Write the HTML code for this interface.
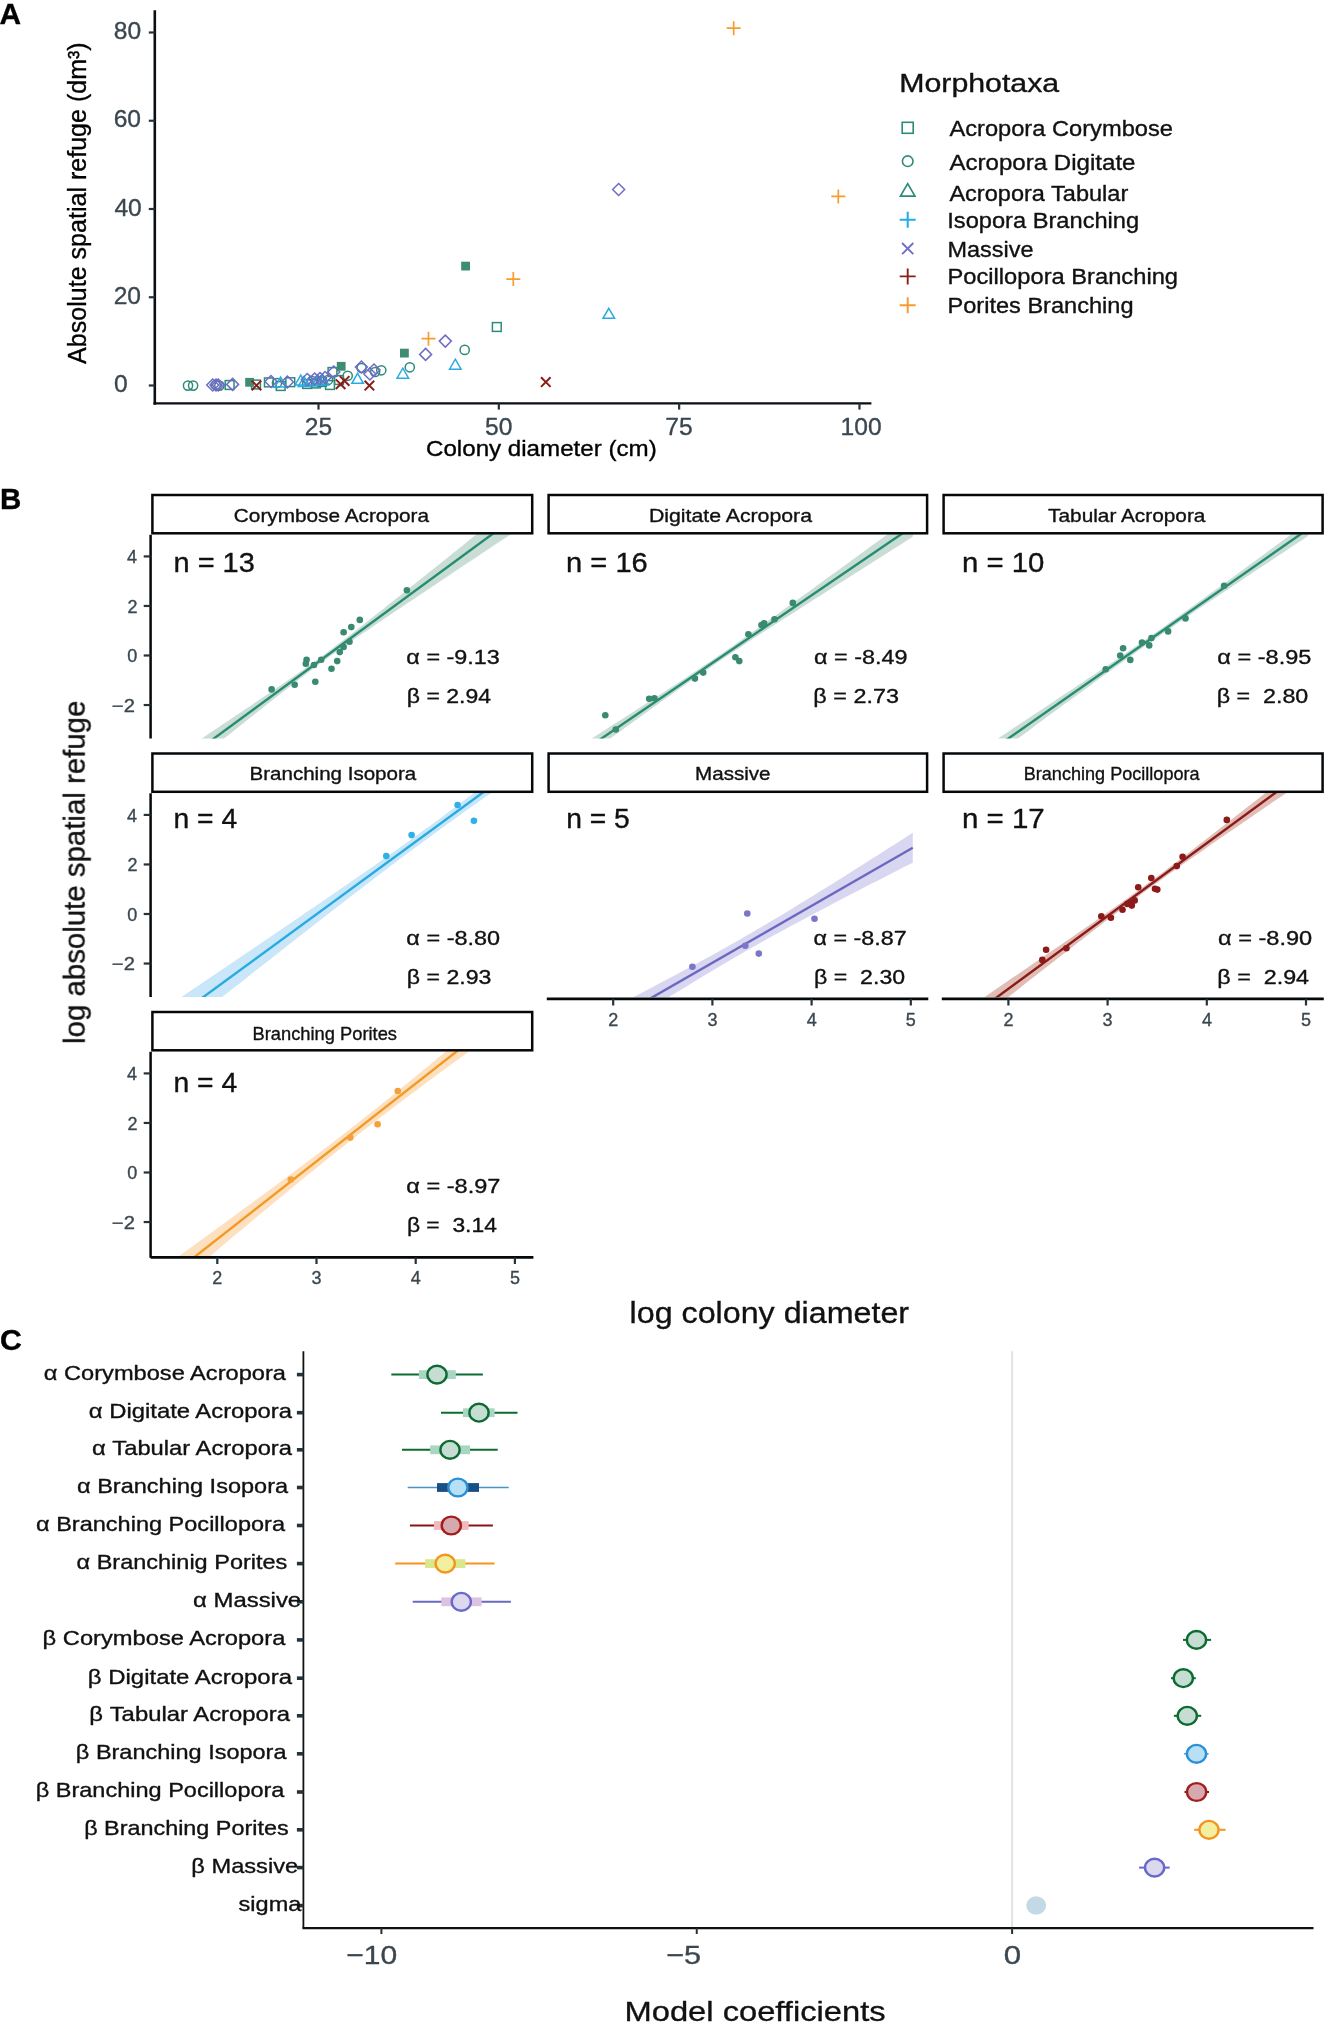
<!DOCTYPE html>
<html><head><meta charset="utf-8"><style>
html,body{margin:0;padding:0;background:#fff;}
svg{display:block;}
text{font-family:"Liberation Sans", sans-serif;white-space:pre;stroke-width:0.35;stroke-linejoin:round;}
#root{opacity:0.999;}
</style></head><body>
<svg width="1329" height="2023" viewBox="0 0 1329 2023" font-family='"Liberation Sans", sans-serif'>
<rect width="1329" height="2023" fill="#fff"/>
<g id="root">
<g id="A">
<text x="-0.55" y="23.90" font-size="28.6" fill="#000" stroke="#000" font-weight="bold" textLength="21.56" lengthAdjust="spacingAndGlyphs">A</text>
<line x1="154.80" y1="10.20" x2="154.80" y2="404.80" stroke="#0a0f14" stroke-width="2.6"/>
<line x1="153.50" y1="403.40" x2="871.40" y2="403.40" stroke="#0a0f14" stroke-width="2.4"/>
<line x1="148.80" y1="385.50" x2="154.80" y2="385.50" stroke="#25323a" stroke-width="2.2"/>
<text x="113.92" y="392.10" font-size="24.6" fill="#3a4750" stroke="#3a4750">0</text>
<line x1="148.80" y1="297.25" x2="154.80" y2="297.25" stroke="#25323a" stroke-width="2.2"/>
<text x="113.67" y="303.85" font-size="24.6" fill="#3a4750" stroke="#3a4750">20</text>
<line x1="148.80" y1="209.00" x2="154.80" y2="209.00" stroke="#25323a" stroke-width="2.2"/>
<text x="114.41" y="215.60" font-size="24.6" fill="#3a4750" stroke="#3a4750">40</text>
<line x1="148.80" y1="120.75" x2="154.80" y2="120.75" stroke="#25323a" stroke-width="2.2"/>
<text x="113.67" y="127.35" font-size="24.6" fill="#3a4750" stroke="#3a4750">60</text>
<line x1="148.80" y1="32.50" x2="154.80" y2="32.50" stroke="#25323a" stroke-width="2.2"/>
<text x="113.79" y="39.10" font-size="24.6" fill="#3a4750" stroke="#3a4750">80</text>
<line x1="318.50" y1="403.40" x2="318.50" y2="409.60" stroke="#25323a" stroke-width="2.2"/>
<text x="304.72" y="435.00" font-size="24.6" fill="#3a4750" stroke="#3a4750">25</text>
<line x1="498.82" y1="403.40" x2="498.82" y2="409.60" stroke="#25323a" stroke-width="2.2"/>
<text x="485.11" y="435.00" font-size="24.6" fill="#3a4750" stroke="#3a4750">50</text>
<line x1="679.15" y1="403.40" x2="679.15" y2="409.60" stroke="#25323a" stroke-width="2.2"/>
<text x="665.37" y="435.00" font-size="24.6" fill="#3a4750" stroke="#3a4750">75</text>
<line x1="859.48" y1="403.40" x2="859.48" y2="409.60" stroke="#25323a" stroke-width="2.2"/>
<text x="840.55" y="435.00" font-size="24.6" fill="#3a4750" stroke="#3a4750">100</text>
<text x="425.99" y="456.00" font-size="21.6" fill="#000" stroke="#000" textLength="230.74" lengthAdjust="spacingAndGlyphs">Colony diameter (cm)</text>
<text transform="translate(85.50,363.90) rotate(-90)" x="0" y="0" font-size="24.9" fill="#000" stroke="#000" textLength="321.62" lengthAdjust="spacingAndGlyphs">Absolute spatial refuge (dm³)</text>
<rect x="225.20" y="380.60" width="8.8" height="8.8" fill="none" stroke="#2e8b78" stroke-width="1.5"/>
<rect x="251.60" y="380.10" width="8.8" height="8.8" fill="none" stroke="#2e8b78" stroke-width="1.5"/>
<rect x="264.50" y="378.00" width="8.8" height="8.8" fill="none" stroke="#2e8b78" stroke-width="1.5"/>
<rect x="276.30" y="381.60" width="8.8" height="8.8" fill="none" stroke="#2e8b78" stroke-width="1.5"/>
<rect x="285.90" y="377.80" width="8.8" height="8.8" fill="none" stroke="#2e8b78" stroke-width="1.5"/>
<rect x="302.80" y="379.60" width="8.8" height="8.8" fill="none" stroke="#2e8b78" stroke-width="1.5"/>
<rect x="311.60" y="379.10" width="8.8" height="8.8" fill="none" stroke="#2e8b78" stroke-width="1.5"/>
<rect x="317.60" y="377.60" width="8.8" height="8.8" fill="none" stroke="#2e8b78" stroke-width="1.5"/>
<rect x="325.60" y="380.60" width="8.8" height="8.8" fill="none" stroke="#2e8b78" stroke-width="1.5"/>
<rect x="328.10" y="367.60" width="8.8" height="8.8" fill="none" stroke="#2e8b78" stroke-width="1.5"/>
<rect x="334.60" y="375.60" width="8.8" height="8.8" fill="none" stroke="#2e8b78" stroke-width="1.5"/>
<rect x="492.40" y="322.60" width="8.8" height="8.8" fill="none" stroke="#2e8b78" stroke-width="1.5"/>
<circle cx="188" cy="385.6" r="4.6" fill="none" stroke="#2e8b78" stroke-width="1.5"/>
<circle cx="193.1" cy="385.6" r="4.6" fill="none" stroke="#2e8b78" stroke-width="1.5"/>
<circle cx="215.7" cy="385" r="4.6" fill="none" stroke="#2e8b78" stroke-width="1.5"/>
<circle cx="219.4" cy="385.6" r="4.6" fill="none" stroke="#2e8b78" stroke-width="1.5"/>
<circle cx="277" cy="383" r="4.6" fill="none" stroke="#2e8b78" stroke-width="1.5"/>
<circle cx="312" cy="381" r="4.6" fill="none" stroke="#2e8b78" stroke-width="1.5"/>
<circle cx="321" cy="381" r="4.6" fill="none" stroke="#2e8b78" stroke-width="1.5"/>
<circle cx="328" cy="380" r="4.6" fill="none" stroke="#2e8b78" stroke-width="1.5"/>
<circle cx="347.7" cy="375.8" r="4.6" fill="none" stroke="#2e8b78" stroke-width="1.5"/>
<circle cx="361.6" cy="368" r="4.6" fill="none" stroke="#2e8b78" stroke-width="1.5"/>
<circle cx="375.1" cy="372" r="4.6" fill="none" stroke="#2e8b78" stroke-width="1.5"/>
<circle cx="381.3" cy="370.3" r="4.6" fill="none" stroke="#2e8b78" stroke-width="1.5"/>
<circle cx="409.8" cy="367.3" r="4.6" fill="none" stroke="#2e8b78" stroke-width="1.5"/>
<circle cx="464.7" cy="349.9" r="4.6" fill="none" stroke="#2e8b78" stroke-width="1.5"/>
<path d="M280.60,377.02 L286.35,386.98 L274.85,386.98 Z" fill="none" stroke="#29abe2" stroke-width="1.5" stroke-linejoin="miter"/>
<path d="M300.80,375.02 L306.55,384.98 L295.05,384.98 Z" fill="none" stroke="#29abe2" stroke-width="1.5" stroke-linejoin="miter"/>
<path d="M304.00,376.52 L309.75,386.48 L298.25,386.48 Z" fill="none" stroke="#29abe2" stroke-width="1.5" stroke-linejoin="miter"/>
<path d="M310.00,376.02 L315.75,385.98 L304.25,385.98 Z" fill="none" stroke="#29abe2" stroke-width="1.5" stroke-linejoin="miter"/>
<path d="M318.00,375.02 L323.75,384.98 L312.25,384.98 Z" fill="none" stroke="#29abe2" stroke-width="1.5" stroke-linejoin="miter"/>
<path d="M323.00,375.02 L328.75,384.98 L317.25,384.98 Z" fill="none" stroke="#29abe2" stroke-width="1.5" stroke-linejoin="miter"/>
<path d="M357.60,373.32 L363.35,383.28 L351.85,383.28 Z" fill="none" stroke="#29abe2" stroke-width="1.5" stroke-linejoin="miter"/>
<path d="M402.80,368.22 L408.55,378.18 L397.05,378.18 Z" fill="none" stroke="#29abe2" stroke-width="1.5" stroke-linejoin="miter"/>
<path d="M455.30,359.22 L461.05,369.18 L449.55,369.18 Z" fill="none" stroke="#29abe2" stroke-width="1.5" stroke-linejoin="miter"/>
<path d="M608.80,308.32 L614.55,318.28 L603.05,318.28 Z" fill="none" stroke="#29abe2" stroke-width="1.5" stroke-linejoin="miter"/>
<path d="M212.70,379.00 L218.70,385.00 L212.70,391.00 L206.70,385.00 Z" fill="none" stroke="#6f6cc6" stroke-width="1.5"/>
<path d="M216.00,379.00 L222.00,385.00 L216.00,391.00 L210.00,385.00 Z" fill="none" stroke="#6f6cc6" stroke-width="1.5"/>
<path d="M218.20,379.00 L224.20,385.00 L218.20,391.00 L212.20,385.00 Z" fill="none" stroke="#6f6cc6" stroke-width="1.5"/>
<path d="M232.60,378.40 L238.60,384.40 L232.60,390.40 L226.60,384.40 Z" fill="none" stroke="#6f6cc6" stroke-width="1.5"/>
<path d="M271.00,375.50 L277.00,381.50 L271.00,387.50 L265.00,381.50 Z" fill="none" stroke="#6f6cc6" stroke-width="1.5"/>
<path d="M287.40,376.00 L293.40,382.00 L287.40,388.00 L281.40,382.00 Z" fill="none" stroke="#6f6cc6" stroke-width="1.5"/>
<path d="M307.30,373.50 L313.30,379.50 L307.30,385.50 L301.30,379.50 Z" fill="none" stroke="#6f6cc6" stroke-width="1.5"/>
<path d="M314.60,373.00 L320.60,379.00 L314.60,385.00 L308.60,379.00 Z" fill="none" stroke="#6f6cc6" stroke-width="1.5"/>
<path d="M320.00,372.50 L326.00,378.50 L320.00,384.50 L314.00,378.50 Z" fill="none" stroke="#6f6cc6" stroke-width="1.5"/>
<path d="M325.00,371.50 L331.00,377.50 L325.00,383.50 L319.00,377.50 Z" fill="none" stroke="#6f6cc6" stroke-width="1.5"/>
<path d="M333.80,366.00 L339.80,372.00 L333.80,378.00 L327.80,372.00 Z" fill="none" stroke="#6f6cc6" stroke-width="1.5"/>
<path d="M361.40,361.00 L367.40,367.00 L361.40,373.00 L355.40,367.00 Z" fill="none" stroke="#6f6cc6" stroke-width="1.5"/>
<path d="M369.90,368.00 L375.90,374.00 L369.90,380.00 L363.90,374.00 Z" fill="none" stroke="#6f6cc6" stroke-width="1.5"/>
<path d="M374.00,364.00 L380.00,370.00 L374.00,376.00 L368.00,370.00 Z" fill="none" stroke="#6f6cc6" stroke-width="1.5"/>
<path d="M425.60,348.40 L431.60,354.40 L425.60,360.40 L419.60,354.40 Z" fill="none" stroke="#6f6cc6" stroke-width="1.5"/>
<path d="M445.30,335.10 L451.30,341.10 L445.30,347.10 L439.30,341.10 Z" fill="none" stroke="#6f6cc6" stroke-width="1.5"/>
<path d="M618.60,183.50 L624.60,189.50 L618.60,195.50 L612.60,189.50 Z" fill="none" stroke="#6f6cc6" stroke-width="1.5"/>
<rect x="245.20" y="377.90" width="8.8" height="8.8" fill="#3f8c74"/>
<rect x="336.80" y="361.90" width="8.8" height="8.8" fill="#3f8c74"/>
<rect x="400.00" y="348.70" width="8.8" height="8.8" fill="#3f8c74"/>
<rect x="461.20" y="261.70" width="8.8" height="8.8" fill="#3f8c74"/>
<path d="M251.70,380.60 L261.30,390.20 M261.30,380.60 L251.70,390.20" stroke="#8b1d1a" stroke-width="2.0"/>
<path d="M335.80,379.40 L345.40,389.00 M345.40,379.40 L335.80,389.00" stroke="#8b1d1a" stroke-width="2.0"/>
<path d="M339.80,376.10 L349.40,385.70 M349.40,376.10 L339.80,385.70" stroke="#8b1d1a" stroke-width="2.0"/>
<path d="M364.60,380.80 L374.20,390.40 M374.20,380.80 L364.60,390.40" stroke="#8b1d1a" stroke-width="2.0"/>
<path d="M541.00,377.30 L550.60,386.90 M550.60,377.30 L541.00,386.90" stroke="#8b1d1a" stroke-width="2.0"/>
<path d="M421.50,338.70 L435.50,338.70 M428.50,331.70 L428.50,345.70" stroke="#f79c2e" stroke-width="1.7"/>
<path d="M506.30,279.10 L520.30,279.10 M513.30,272.10 L513.30,286.10" stroke="#f79c2e" stroke-width="1.7"/>
<path d="M726.70,28.20 L740.70,28.20 M733.70,21.20 L733.70,35.20" stroke="#f79c2e" stroke-width="1.7"/>
<path d="M831.30,196.40 L845.30,196.40 M838.30,189.40 L838.30,203.40" stroke="#f79c2e" stroke-width="1.7"/>
<text x="899.28" y="92.20" font-size="25.0" fill="#111" stroke="#111" textLength="159.95" lengthAdjust="spacingAndGlyphs">Morphotaxa</text>
<text x="949.40" y="136.20" font-size="21.4" fill="#111" stroke="#111" textLength="223.55" lengthAdjust="spacingAndGlyphs">Acropora Corymbose</text>
<text x="949.40" y="170.00" font-size="21.4" fill="#111" stroke="#111" textLength="186.12" lengthAdjust="spacingAndGlyphs">Acropora Digitate</text>
<text x="949.40" y="200.60" font-size="21.4" fill="#111" stroke="#111" textLength="178.91" lengthAdjust="spacingAndGlyphs">Acropora Tabular</text>
<text x="947.27" y="228.30" font-size="21.4" fill="#111" stroke="#111" textLength="191.90" lengthAdjust="spacingAndGlyphs">Isopora Branching</text>
<text x="947.52" y="256.50" font-size="21.4" fill="#111" stroke="#111" textLength="85.99" lengthAdjust="spacingAndGlyphs">Massive</text>
<text x="947.50" y="283.70" font-size="21.4" fill="#111" stroke="#111" textLength="230.52" lengthAdjust="spacingAndGlyphs">Pocillopora Branching</text>
<text x="947.51" y="312.60" font-size="21.4" fill="#111" stroke="#111" textLength="186.00" lengthAdjust="spacingAndGlyphs">Porites Branching</text>
<rect x="902.20" y="122.30" width="11.0" height="11.0" fill="none" stroke="#2e8b78" stroke-width="1.6"/>
<circle cx="907.7" cy="161.2" r="5.3" fill="none" stroke="#2e8b78" stroke-width="1.6"/>
<path d="M907.70,183.62 L914.95,196.18 L900.45,196.18 Z" fill="none" stroke="#2e8b78" stroke-width="1.7" stroke-linejoin="miter"/>
<path d="M899.70,219.80 L915.70,219.80 M907.70,211.80 L907.70,227.80" stroke="#22afe6" stroke-width="2.1"/>
<path d="M902.10,243.00 L913.30,254.20 M913.30,243.00 L902.10,254.20" stroke="#6f6cc6" stroke-width="1.8"/>
<path d="M899.70,276.40 L915.70,276.40 M907.70,268.40 L907.70,284.40" stroke="#8b1d1a" stroke-width="1.9"/>
<path d="M899.70,305.20 L915.70,305.20 M907.70,297.20 L907.70,313.20" stroke="#f79c2e" stroke-width="2.0"/>
</g>
<g id="B">
<text x="-0.12" y="509.30" font-size="28.6" fill="#000" stroke="#000" font-weight="bold" textLength="21.31" lengthAdjust="spacingAndGlyphs">B</text>
<defs>
<clipPath id="cp0"><rect x="151.80" y="534.20" width="381.00" height="204.30"/></clipPath>
<clipPath id="cp1"><rect x="548.00" y="534.20" width="379.70" height="204.30"/></clipPath>
<clipPath id="cp2"><rect x="943.00" y="534.20" width="380.20" height="204.30"/></clipPath>
<clipPath id="cp3"><rect x="151.80" y="792.70" width="381.00" height="204.30"/></clipPath>
<clipPath id="cp4"><rect x="548.00" y="792.70" width="379.70" height="204.50"/></clipPath>
<clipPath id="cp5"><rect x="943.00" y="792.70" width="380.20" height="204.50"/></clipPath>
<clipPath id="cp6"><rect x="151.80" y="1051.20" width="381.00" height="205.20"/></clipPath>
</defs>
<g clip-path="url(#cp0)">
<path d="M169.68,759.84 L175.47,755.98 L181.26,752.12 L187.04,748.27 L192.83,744.41 L198.62,740.54 L204.40,736.68 L210.19,732.82 L215.98,728.95 L221.76,725.08 L227.55,721.20 L233.34,717.33 L239.12,713.44 L244.91,709.55 L250.70,705.66 L256.48,701.76 L262.27,697.85 L268.06,693.92 L273.84,689.99 L279.63,686.04 L285.42,682.06 L291.20,678.07 L296.99,674.04 L302.78,669.98 L308.56,665.87 L314.35,661.71 L320.14,657.51 L325.92,653.24 L331.71,648.93 L337.50,644.56 L343.28,640.14 L349.07,635.69 L354.86,631.21 L360.64,626.69 L366.43,622.16 L372.22,617.60 L378.00,613.04 L383.79,608.46 L389.58,603.87 L395.36,599.27 L401.15,594.66 L406.94,590.05 L412.72,585.44 L418.51,580.81 L424.30,576.19 L430.08,571.56 L435.87,566.93 L441.66,562.30 L447.44,557.67 L453.23,553.03 L459.02,548.40 L464.80,543.76 L470.59,539.12 L476.38,534.48 L482.16,529.83 L487.95,525.19 L493.74,520.55 L499.52,515.90 L505.31,511.26 L511.10,506.61 L516.88,501.96 L516.88,530.19 L511.10,534.04 L505.31,537.89 L499.52,541.74 L493.74,545.59 L487.95,549.44 L482.16,553.29 L476.38,557.15 L470.59,561.00 L464.80,564.86 L459.02,568.71 L453.23,572.57 L447.44,576.43 L441.66,580.30 L435.87,584.16 L430.08,588.03 L424.30,591.90 L418.51,595.77 L412.72,599.64 L406.94,603.52 L401.15,607.41 L395.36,611.30 L389.58,615.20 L383.79,619.10 L378.00,623.02 L372.22,626.95 L366.43,630.89 L360.64,634.85 L354.86,638.84 L349.07,642.85 L343.28,646.89 L337.50,650.97 L331.71,655.10 L325.92,659.28 L320.14,663.51 L314.35,667.80 L308.56,672.14 L302.78,676.53 L296.99,680.96 L291.20,685.43 L285.42,689.93 L279.63,694.45 L273.84,699.00 L268.06,703.56 L262.27,708.13 L256.48,712.72 L250.70,717.31 L244.91,721.91 L239.12,726.52 L233.34,731.13 L227.55,735.75 L221.76,740.37 L215.98,745.00 L210.19,749.63 L204.40,754.26 L198.62,758.89 L192.83,763.53 L187.04,768.16 L181.26,772.80 L175.47,777.44 L169.68,782.08 Z" fill="#c9ddd5"/>
<line x1="169.68" y1="770.96" x2="516.88" y2="516.07" stroke="#268c74" stroke-width="2.4"/>
<circle cx="406.9" cy="590.3" r="3.3" fill="#3a8a70"/>
<circle cx="359.8" cy="619.9" r="3.3" fill="#3a8a70"/>
<circle cx="351.3" cy="627.1" r="3.3" fill="#3a8a70"/>
<circle cx="343.6" cy="632.3" r="3.3" fill="#3a8a70"/>
<circle cx="349.5" cy="641.8" r="3.3" fill="#3a8a70"/>
<circle cx="343.6" cy="646.9" r="3.3" fill="#3a8a70"/>
<circle cx="339.8" cy="652.1" r="3.3" fill="#3a8a70"/>
<circle cx="337.2" cy="661.1" r="3.3" fill="#3a8a70"/>
<circle cx="331.5" cy="668.8" r="3.3" fill="#3a8a70"/>
<circle cx="321.2" cy="659.8" r="3.3" fill="#3a8a70"/>
<circle cx="314" cy="665" r="3.3" fill="#3a8a70"/>
<circle cx="306.6" cy="659.8" r="3.3" fill="#3a8a70"/>
<circle cx="305.8" cy="663.7" r="3.3" fill="#3a8a70"/>
<circle cx="315.3" cy="681.7" r="3.3" fill="#3a8a70"/>
<circle cx="294.7" cy="684.8" r="3.3" fill="#3a8a70"/>
<circle cx="271.6" cy="689.4" r="3.3" fill="#3a8a70"/>
</g>
<rect x="152.40" y="495.00" width="379.80" height="38.30" fill="#fff" stroke="#05080b" stroke-width="2.5"/>
<text x="233.86" y="521.50" font-size="18.5" fill="#111" stroke="#111" textLength="195.11" lengthAdjust="spacingAndGlyphs">Corymbose Acropora</text>
<text x="173.52" y="572.10" font-size="27.0" fill="#111" stroke="#111" textLength="81.23" lengthAdjust="spacingAndGlyphs">n = 13</text>
<text x="406.36" y="664.40" font-size="20.3" fill="#111" stroke="#111" textLength="93.52" lengthAdjust="spacingAndGlyphs">α = -9.13</text>
<text x="406.89" y="702.90" font-size="20.3" fill="#111" stroke="#111" textLength="84.23" lengthAdjust="spacingAndGlyphs">β = 2.94</text>
<g clip-path="url(#cp1)">
<path d="M565.58,755.03 L571.37,751.35 L577.16,747.67 L582.94,744.00 L588.73,740.32 L594.52,736.63 L600.30,732.95 L606.09,729.26 L611.88,725.57 L617.66,721.87 L623.45,718.17 L629.24,714.47 L635.02,710.76 L640.81,707.04 L646.60,703.31 L652.38,699.58 L658.17,695.84 L663.96,692.09 L669.74,688.32 L675.53,684.53 L681.32,680.73 L687.10,676.91 L692.89,673.07 L698.68,669.21 L704.46,665.31 L710.25,661.39 L716.04,657.45 L721.82,653.47 L727.61,649.47 L733.40,645.44 L739.18,641.38 L744.97,637.31 L750.76,633.21 L756.54,629.10 L762.33,624.98 L768.12,620.84 L773.90,616.69 L779.69,612.53 L785.48,608.37 L791.26,604.19 L797.05,600.01 L802.84,595.83 L808.62,591.63 L814.41,587.44 L820.20,583.24 L825.98,579.04 L831.77,574.84 L837.56,570.63 L843.34,566.42 L849.13,562.21 L854.92,558.00 L860.70,553.78 L866.49,549.57 L872.28,545.35 L878.06,541.13 L883.85,536.91 L889.64,532.69 L895.42,528.47 L901.21,524.25 L907.00,520.02 L912.78,515.80 L912.78,536.87 L907.00,540.54 L901.21,544.20 L895.42,547.87 L889.64,551.54 L883.85,555.21 L878.06,558.87 L872.28,562.55 L866.49,566.22 L860.70,569.89 L854.92,573.57 L849.13,577.24 L843.34,580.92 L837.56,584.60 L831.77,588.28 L825.98,591.97 L820.20,595.65 L814.41,599.35 L808.62,603.04 L802.84,606.74 L797.05,610.44 L791.26,614.15 L785.48,617.87 L779.69,621.59 L773.90,625.32 L768.12,629.06 L762.33,632.81 L756.54,636.57 L750.76,640.35 L744.97,644.15 L739.18,647.96 L733.40,651.80 L727.61,655.66 L721.82,659.54 L716.04,663.46 L710.25,667.40 L704.46,671.37 L698.68,675.36 L692.89,679.39 L687.10,683.43 L681.32,687.50 L675.53,691.59 L669.74,695.70 L663.96,699.82 L658.17,703.96 L652.38,708.10 L646.60,712.26 L640.81,716.42 L635.02,720.60 L629.24,724.78 L623.45,728.96 L617.66,733.15 L611.88,737.34 L606.09,741.54 L600.30,745.74 L594.52,749.94 L588.73,754.15 L582.94,758.36 L577.16,762.57 L571.37,766.78 L565.58,771.00 Z" fill="#c9ddd5"/>
<line x1="565.58" y1="763.01" x2="912.78" y2="526.33" stroke="#268c74" stroke-width="2.4"/>
<circle cx="605.3" cy="715.2" r="3.3" fill="#3a8a70"/>
<circle cx="615.8" cy="729.5" r="3.3" fill="#3a8a70"/>
<circle cx="649.2" cy="698.7" r="3.3" fill="#3a8a70"/>
<circle cx="654.4" cy="698.2" r="3.3" fill="#3a8a70"/>
<circle cx="694.9" cy="678.6" r="3.3" fill="#3a8a70"/>
<circle cx="703.2" cy="672.6" r="3.3" fill="#3a8a70"/>
<circle cx="735.4" cy="657.2" r="3.3" fill="#3a8a70"/>
<circle cx="739.3" cy="661.1" r="3.3" fill="#3a8a70"/>
<circle cx="748.4" cy="634.2" r="3.3" fill="#3a8a70"/>
<circle cx="761.5" cy="625.1" r="3.3" fill="#3a8a70"/>
<circle cx="764.1" cy="623.3" r="3.3" fill="#3a8a70"/>
<circle cx="774.5" cy="619.3" r="3.3" fill="#3a8a70"/>
<circle cx="792.8" cy="602.9" r="3.3" fill="#3a8a70"/>
</g>
<rect x="548.60" y="495.00" width="378.50" height="38.30" fill="#fff" stroke="#05080b" stroke-width="2.5"/>
<text x="648.90" y="521.50" font-size="18.5" fill="#111" stroke="#111" textLength="163.13" lengthAdjust="spacingAndGlyphs">Digitate Acropora</text>
<text x="566.11" y="572.10" font-size="27.0" fill="#111" stroke="#111" textLength="81.64" lengthAdjust="spacingAndGlyphs">n = 16</text>
<text x="814.06" y="664.40" font-size="20.3" fill="#111" stroke="#111" textLength="93.44" lengthAdjust="spacingAndGlyphs">α = -8.49</text>
<text x="813.36" y="702.90" font-size="20.3" fill="#111" stroke="#111" textLength="85.60" lengthAdjust="spacingAndGlyphs">β = 2.73</text>
<g clip-path="url(#cp2)">
<path d="M960.78,762.93 L966.57,759.11 L972.36,755.30 L978.14,751.48 L983.93,747.66 L989.72,743.84 L995.50,740.02 L1001.29,736.20 L1007.08,732.38 L1012.86,728.55 L1018.65,724.72 L1024.44,720.90 L1030.22,717.06 L1036.01,713.23 L1041.80,709.40 L1047.58,705.56 L1053.37,701.72 L1059.16,697.87 L1064.94,694.02 L1070.73,690.17 L1076.52,686.31 L1082.30,682.44 L1088.09,678.57 L1093.88,674.69 L1099.66,670.81 L1105.45,666.91 L1111.24,663.00 L1117.02,659.09 L1122.81,655.15 L1128.60,651.21 L1134.38,647.25 L1140.17,643.27 L1145.96,639.27 L1151.74,635.25 L1157.53,631.21 L1163.32,627.16 L1169.10,623.08 L1174.89,618.98 L1180.68,614.87 L1186.46,610.74 L1192.25,606.59 L1198.04,602.43 L1203.82,598.26 L1209.61,594.07 L1215.40,589.87 L1221.18,585.67 L1226.97,581.45 L1232.76,577.23 L1238.54,573.01 L1244.33,568.77 L1250.12,564.53 L1255.90,560.29 L1261.69,556.05 L1267.48,551.80 L1273.26,547.54 L1279.05,543.29 L1284.84,539.03 L1290.62,534.77 L1296.41,530.50 L1302.20,526.24 L1307.98,521.97 L1307.98,536.08 L1302.20,539.90 L1296.41,543.73 L1290.62,547.56 L1284.84,551.39 L1279.05,555.22 L1273.26,559.06 L1267.48,562.89 L1261.69,566.74 L1255.90,570.58 L1250.12,574.43 L1244.33,578.28 L1238.54,582.14 L1232.76,586.00 L1226.97,589.88 L1221.18,593.75 L1215.40,597.64 L1209.61,601.53 L1203.82,605.44 L1198.04,609.36 L1192.25,613.29 L1186.46,617.23 L1180.68,621.19 L1174.89,625.17 L1169.10,629.16 L1163.32,633.18 L1157.53,637.21 L1151.74,641.27 L1145.96,645.34 L1140.17,649.44 L1134.38,653.55 L1128.60,657.68 L1122.81,661.82 L1117.02,665.98 L1111.24,670.16 L1105.45,674.34 L1099.66,678.54 L1093.88,682.74 L1088.09,686.95 L1082.30,691.17 L1076.52,695.40 L1070.73,699.63 L1064.94,703.87 L1059.16,708.11 L1053.37,712.36 L1047.58,716.61 L1041.80,720.86 L1036.01,725.12 L1030.22,729.38 L1024.44,733.64 L1018.65,737.90 L1012.86,742.17 L1007.08,746.43 L1001.29,750.70 L995.50,754.97 L989.72,759.24 L983.93,763.51 L978.14,767.79 L972.36,772.06 L966.57,776.34 L960.78,780.61 Z" fill="#c9ddd5"/>
<line x1="960.78" y1="771.77" x2="1307.98" y2="529.02" stroke="#268c74" stroke-width="2.4"/>
<circle cx="1224.1" cy="585.8" r="3.3" fill="#3a8a70"/>
<circle cx="1185.5" cy="618.4" r="3.3" fill="#3a8a70"/>
<circle cx="1168.1" cy="631.4" r="3.3" fill="#3a8a70"/>
<circle cx="1151.5" cy="638.1" r="3.3" fill="#3a8a70"/>
<circle cx="1149.2" cy="645.4" r="3.3" fill="#3a8a70"/>
<circle cx="1142" cy="642.5" r="3.3" fill="#3a8a70"/>
<circle cx="1123.1" cy="648.3" r="3.3" fill="#3a8a70"/>
<circle cx="1120.2" cy="655.5" r="3.3" fill="#3a8a70"/>
<circle cx="1130.3" cy="659.9" r="3.3" fill="#3a8a70"/>
<circle cx="1105.7" cy="669.2" r="3.3" fill="#3a8a70"/>
</g>
<rect x="943.60" y="495.00" width="379.00" height="38.30" fill="#fff" stroke="#05080b" stroke-width="2.5"/>
<text x="1048.08" y="521.50" font-size="18.5" fill="#111" stroke="#111" textLength="157.32" lengthAdjust="spacingAndGlyphs">Tabular Acropora</text>
<text x="961.99" y="572.10" font-size="27.0" fill="#111" stroke="#111" textLength="82.32" lengthAdjust="spacingAndGlyphs">n = 10</text>
<text x="1217.36" y="664.40" font-size="20.3" fill="#111" stroke="#111" textLength="94.03" lengthAdjust="spacingAndGlyphs">α = -8.95</text>
<text x="1216.67" y="702.90" font-size="20.3" fill="#111" stroke="#111" textLength="91.62" lengthAdjust="spacingAndGlyphs">β =  2.80</text>
<g clip-path="url(#cp3)">
<path d="M169.68,1004.95 L175.47,1001.05 L181.26,997.14 L187.04,993.24 L192.83,989.33 L198.62,985.42 L204.40,981.51 L210.19,977.61 L215.98,973.69 L221.76,969.78 L227.55,965.87 L233.34,961.95 L239.12,958.04 L244.91,954.12 L250.70,950.20 L256.48,946.28 L262.27,942.35 L268.06,938.42 L273.84,934.50 L279.63,930.56 L285.42,926.63 L291.20,922.69 L296.99,918.75 L302.78,914.80 L308.56,910.85 L314.35,906.89 L320.14,902.93 L325.92,898.97 L331.71,894.99 L337.50,891.02 L343.28,887.03 L349.07,883.03 L354.86,879.03 L360.64,875.01 L366.43,870.99 L372.22,866.95 L378.00,862.90 L383.79,858.83 L389.58,854.75 L395.36,850.65 L401.15,846.54 L406.94,842.40 L412.72,838.24 L418.51,834.07 L424.30,829.87 L430.08,825.65 L435.87,821.41 L441.66,817.14 L447.44,812.85 L453.23,808.55 L459.02,804.22 L464.80,799.87 L470.59,795.50 L476.38,791.12 L482.16,786.72 L487.95,782.31 L493.74,777.88 L499.52,773.44 L505.31,768.99 L511.10,764.53 L516.88,760.06 L516.88,775.23 L511.10,779.22 L505.31,783.23 L499.52,787.25 L493.74,791.27 L487.95,795.32 L482.16,799.37 L476.38,803.44 L470.59,807.52 L464.80,811.62 L459.02,815.74 L453.23,819.88 L447.44,824.04 L441.66,828.22 L435.87,832.42 L430.08,836.65 L424.30,840.89 L418.51,845.16 L412.72,849.45 L406.94,853.77 L401.15,858.10 L395.36,862.45 L389.58,866.82 L383.79,871.20 L378.00,875.60 L372.22,880.02 L366.43,884.45 L360.64,888.89 L354.86,893.34 L349.07,897.80 L343.28,902.28 L337.50,906.76 L331.71,911.24 L325.92,915.74 L320.14,920.24 L314.35,924.75 L308.56,929.26 L302.78,933.77 L296.99,938.30 L291.20,942.82 L285.42,947.35 L279.63,951.88 L273.84,956.42 L268.06,960.95 L262.27,965.49 L256.48,970.04 L250.70,974.58 L244.91,979.13 L239.12,983.68 L233.34,988.23 L227.55,992.78 L221.76,997.33 L215.98,1001.89 L210.19,1006.45 L204.40,1011.00 L198.62,1015.56 L192.83,1020.12 L187.04,1024.68 L181.26,1029.24 L175.47,1033.81 L169.68,1038.37 Z" fill="#c9e7f8"/>
<line x1="169.68" y1="1021.66" x2="516.88" y2="767.64" stroke="#29abe2" stroke-width="2.4"/>
<circle cx="386.3" cy="856.1" r="3.3" fill="#2fb0e6"/>
<circle cx="411.6" cy="835.1" r="3.3" fill="#2fb0e6"/>
<circle cx="457.6" cy="805.0" r="3.3" fill="#2fb0e6"/>
<circle cx="473.9" cy="820.8" r="3.3" fill="#2fb0e6"/>
</g>
<rect x="152.40" y="753.50" width="379.80" height="38.30" fill="#fff" stroke="#05080b" stroke-width="2.5"/>
<text x="249.56" y="779.90" font-size="18.5" fill="#111" stroke="#111" textLength="166.67" lengthAdjust="spacingAndGlyphs">Branching Isopora</text>
<text x="173.56" y="828.30" font-size="27.0" fill="#111" stroke="#111" textLength="63.64" lengthAdjust="spacingAndGlyphs">n = 4</text>
<text x="406.36" y="945.00" font-size="20.3" fill="#111" stroke="#111" textLength="93.71" lengthAdjust="spacingAndGlyphs">α = -8.80</text>
<text x="406.89" y="983.90" font-size="20.3" fill="#111" stroke="#111" textLength="84.46" lengthAdjust="spacingAndGlyphs">β = 2.93</text>
<g clip-path="url(#cp4)">
<path d="M565.58,1031.80 L571.37,1028.86 L577.16,1025.91 L582.94,1022.96 L588.73,1020.01 L594.52,1017.05 L600.30,1014.09 L606.09,1011.12 L611.88,1008.15 L617.66,1005.17 L623.45,1002.18 L629.24,999.19 L635.02,996.20 L640.81,993.19 L646.60,990.17 L652.38,987.15 L658.17,984.11 L663.96,981.07 L669.74,978.01 L675.53,974.94 L681.32,971.85 L687.10,968.75 L692.89,965.63 L698.68,962.49 L704.46,959.33 L710.25,956.15 L716.04,952.95 L721.82,949.73 L727.61,946.48 L733.40,943.21 L739.18,939.91 L744.97,936.59 L750.76,933.24 L756.54,929.87 L762.33,926.47 L768.12,923.05 L773.90,919.60 L779.69,916.13 L785.48,912.64 L791.26,909.14 L797.05,905.61 L802.84,902.07 L808.62,898.51 L814.41,894.93 L820.20,891.35 L825.98,887.75 L831.77,884.13 L837.56,880.51 L843.34,876.88 L849.13,873.24 L854.92,869.59 L860.70,865.94 L866.49,862.28 L872.28,858.61 L878.06,854.93 L883.85,851.26 L889.64,847.57 L895.42,843.88 L901.21,840.19 L907.00,836.49 L912.78,832.79 L912.78,862.64 L907.00,865.58 L901.21,868.53 L895.42,871.49 L889.64,874.45 L883.85,877.41 L878.06,880.38 L872.28,883.35 L866.49,886.33 L860.70,889.31 L854.92,892.30 L849.13,895.30 L843.34,898.31 L837.56,901.32 L831.77,904.35 L825.98,907.38 L820.20,910.43 L814.41,913.49 L808.62,916.56 L802.84,919.65 L797.05,922.75 L791.26,925.87 L785.48,929.01 L779.69,932.17 L773.90,935.35 L768.12,938.55 L762.33,941.77 L756.54,945.02 L750.76,948.30 L744.97,951.59 L739.18,954.92 L733.40,958.27 L727.61,961.64 L721.82,965.04 L716.04,968.46 L710.25,971.91 L704.46,975.38 L698.68,978.87 L692.89,982.38 L687.10,985.90 L681.32,989.45 L675.53,993.01 L669.74,996.58 L663.96,1000.17 L658.17,1003.77 L652.38,1007.38 L646.60,1011.00 L640.81,1014.63 L635.02,1018.27 L629.24,1021.92 L623.45,1025.58 L617.66,1029.24 L611.88,1032.91 L606.09,1036.58 L600.30,1040.26 L594.52,1043.95 L588.73,1047.63 L582.94,1051.33 L577.16,1055.02 L571.37,1058.72 L565.58,1062.43 Z" fill="#d8d6f0"/>
<line x1="565.58" y1="1047.11" x2="912.78" y2="847.72" stroke="#6c68c0" stroke-width="2.4"/>
<circle cx="692.4" cy="966.7" r="3.3" fill="#7a76c8"/>
<circle cx="745.3" cy="945.8" r="3.3" fill="#7a76c8"/>
<circle cx="758.8" cy="953.6" r="3.3" fill="#7a76c8"/>
<circle cx="747.3" cy="913.5" r="3.3" fill="#7a76c8"/>
<circle cx="814.5" cy="918.7" r="3.3" fill="#7a76c8"/>
</g>
<rect x="548.60" y="753.50" width="378.50" height="38.30" fill="#fff" stroke="#05080b" stroke-width="2.5"/>
<text x="695.05" y="779.90" font-size="18.5" fill="#111" stroke="#111" textLength="75.53" lengthAdjust="spacingAndGlyphs">Massive</text>
<text x="566.16" y="828.30" font-size="27.0" fill="#111" stroke="#111" textLength="63.62" lengthAdjust="spacingAndGlyphs">n = 5</text>
<text x="813.57" y="945.00" font-size="20.3" fill="#111" stroke="#111" textLength="93.15" lengthAdjust="spacingAndGlyphs">α = -8.87</text>
<text x="814.08" y="983.90" font-size="20.3" fill="#111" stroke="#111" textLength="91.00" lengthAdjust="spacingAndGlyphs">β =  2.30</text>
<g clip-path="url(#cp5)">
<path d="M960.78,1013.17 L966.57,1009.23 L972.36,1005.28 L978.14,1001.33 L983.93,997.38 L989.72,993.43 L995.50,989.48 L1001.29,985.53 L1007.08,981.58 L1012.86,977.62 L1018.65,973.66 L1024.44,969.70 L1030.22,965.74 L1036.01,961.78 L1041.80,957.81 L1047.58,953.84 L1053.37,949.86 L1059.16,945.89 L1064.94,941.90 L1070.73,937.91 L1076.52,933.92 L1082.30,929.91 L1088.09,925.90 L1093.88,921.88 L1099.66,917.84 L1105.45,913.79 L1111.24,909.73 L1117.02,905.64 L1122.81,901.53 L1128.60,897.40 L1134.38,893.24 L1140.17,889.05 L1145.96,884.82 L1151.74,880.57 L1157.53,876.28 L1163.32,871.95 L1169.10,867.60 L1174.89,863.23 L1180.68,858.83 L1186.46,854.41 L1192.25,849.97 L1198.04,845.51 L1203.82,841.04 L1209.61,836.57 L1215.40,832.08 L1221.18,827.58 L1226.97,823.08 L1232.76,818.57 L1238.54,814.05 L1244.33,809.53 L1250.12,805.01 L1255.90,800.48 L1261.69,795.95 L1267.48,791.42 L1273.26,786.88 L1279.05,782.34 L1284.84,777.80 L1290.62,773.26 L1296.41,768.72 L1302.20,764.17 L1307.98,759.63 L1307.98,778.13 L1302.20,782.08 L1296.41,786.03 L1290.62,789.98 L1284.84,793.94 L1279.05,797.89 L1273.26,801.85 L1267.48,805.81 L1261.69,809.77 L1255.90,813.74 L1250.12,817.71 L1244.33,821.68 L1238.54,825.66 L1232.76,829.64 L1226.97,833.62 L1221.18,837.62 L1215.40,841.62 L1209.61,845.62 L1203.82,849.64 L1198.04,853.67 L1192.25,857.71 L1186.46,861.77 L1180.68,865.84 L1174.89,869.94 L1169.10,874.06 L1163.32,878.20 L1157.53,882.38 L1151.74,886.58 L1145.96,890.82 L1140.17,895.10 L1134.38,899.40 L1128.60,903.73 L1122.81,908.10 L1117.02,912.49 L1111.24,916.90 L1105.45,921.33 L1099.66,925.77 L1093.88,930.23 L1088.09,934.71 L1082.30,939.19 L1076.52,943.68 L1070.73,948.18 L1064.94,952.69 L1059.16,957.20 L1053.37,961.72 L1047.58,966.24 L1041.80,970.77 L1036.01,975.30 L1030.22,979.83 L1024.44,984.36 L1018.65,988.90 L1012.86,993.44 L1007.08,997.98 L1001.29,1002.52 L995.50,1007.06 L989.72,1011.61 L983.93,1016.15 L978.14,1020.70 L972.36,1025.25 L966.57,1029.80 L960.78,1034.35 Z" fill="#e0bdb5"/>
<line x1="960.78" y1="1023.76" x2="1307.98" y2="768.88" stroke="#8b1a1a" stroke-width="2.4"/>
<circle cx="1226.8" cy="819.9" r="3.3" fill="#8b1a1a"/>
<circle cx="1182.6" cy="856.8" r="3.3" fill="#8b1a1a"/>
<circle cx="1176.8" cy="866.1" r="3.3" fill="#8b1a1a"/>
<circle cx="1151.3" cy="878" r="3.3" fill="#8b1a1a"/>
<circle cx="1138.2" cy="887.3" r="3.3" fill="#8b1a1a"/>
<circle cx="1155" cy="888.8" r="3.3" fill="#8b1a1a"/>
<circle cx="1157.3" cy="889.6" r="3.3" fill="#8b1a1a"/>
<circle cx="1134.7" cy="900.4" r="3.3" fill="#8b1a1a"/>
<circle cx="1131.2" cy="903.3" r="3.3" fill="#8b1a1a"/>
<circle cx="1131.8" cy="905.6" r="3.3" fill="#8b1a1a"/>
<circle cx="1127.4" cy="903.9" r="3.3" fill="#8b1a1a"/>
<circle cx="1122.5" cy="909.7" r="3.3" fill="#8b1a1a"/>
<circle cx="1101.3" cy="916.3" r="3.3" fill="#8b1a1a"/>
<circle cx="1110.9" cy="917.8" r="3.3" fill="#8b1a1a"/>
<circle cx="1046.1" cy="949.7" r="3.3" fill="#8b1a1a"/>
<circle cx="1066.4" cy="948.3" r="3.3" fill="#8b1a1a"/>
<circle cx="1042.3" cy="959.9" r="3.3" fill="#8b1a1a"/>
</g>
<rect x="943.60" y="753.50" width="379.00" height="38.30" fill="#fff" stroke="#05080b" stroke-width="2.5"/>
<text x="1023.75" y="779.90" font-size="18.5" fill="#111" stroke="#111" textLength="175.81" lengthAdjust="spacingAndGlyphs">Branching Pocillopora</text>
<text x="961.98" y="828.30" font-size="27.0" fill="#111" stroke="#111" textLength="82.78" lengthAdjust="spacingAndGlyphs">n = 17</text>
<text x="1217.96" y="945.00" font-size="20.3" fill="#111" stroke="#111" textLength="94.22" lengthAdjust="spacingAndGlyphs">α = -8.90</text>
<text x="1217.27" y="983.90" font-size="20.3" fill="#111" stroke="#111" textLength="91.81" lengthAdjust="spacingAndGlyphs">β =  2.94</text>
<g clip-path="url(#cp6)">
<path d="M169.68,1262.85 L175.47,1258.65 L181.26,1254.45 L187.04,1250.25 L192.83,1246.05 L198.62,1241.84 L204.40,1237.63 L210.19,1233.41 L215.98,1229.20 L221.76,1224.97 L227.55,1220.75 L233.34,1216.52 L239.12,1212.28 L244.91,1208.04 L250.70,1203.79 L256.48,1199.54 L262.27,1195.28 L268.06,1191.01 L273.84,1186.73 L279.63,1182.44 L285.42,1178.14 L291.20,1173.83 L296.99,1169.51 L302.78,1165.17 L308.56,1160.81 L314.35,1156.44 L320.14,1152.05 L325.92,1147.65 L331.71,1143.22 L337.50,1138.77 L343.28,1134.29 L349.07,1129.80 L354.86,1125.28 L360.64,1120.74 L366.43,1116.17 L372.22,1111.58 L378.00,1106.96 L383.79,1102.33 L389.58,1097.67 L395.36,1092.99 L401.15,1088.30 L406.94,1083.59 L412.72,1078.86 L418.51,1074.11 L424.30,1069.36 L430.08,1064.59 L435.87,1059.81 L441.66,1055.02 L447.44,1050.22 L453.23,1045.41 L459.02,1040.59 L464.80,1035.77 L470.59,1030.94 L476.38,1026.10 L482.16,1021.26 L487.95,1016.41 L493.74,1011.56 L499.52,1006.71 L505.31,1001.85 L511.10,996.99 L516.88,992.12 L516.88,1016.36 L511.10,1020.57 L505.31,1024.78 L499.52,1029.00 L493.74,1033.22 L487.95,1037.44 L482.16,1041.67 L476.38,1045.90 L470.59,1050.14 L464.80,1054.38 L459.02,1058.64 L453.23,1062.89 L447.44,1067.16 L441.66,1071.43 L435.87,1075.71 L430.08,1080.01 L424.30,1084.31 L418.51,1088.63 L412.72,1092.96 L406.94,1097.31 L401.15,1101.67 L395.36,1106.05 L389.58,1110.44 L383.79,1114.86 L378.00,1119.30 L372.22,1123.76 L366.43,1128.24 L360.64,1132.75 L354.86,1137.28 L349.07,1141.83 L343.28,1146.41 L337.50,1151.01 L331.71,1155.64 L325.92,1160.28 L320.14,1164.95 L314.35,1169.64 L308.56,1174.34 L302.78,1179.06 L296.99,1183.79 L291.20,1188.54 L285.42,1193.31 L279.63,1198.08 L273.84,1202.87 L268.06,1207.66 L262.27,1212.47 L256.48,1217.28 L250.70,1222.10 L244.91,1226.93 L239.12,1231.76 L233.34,1236.60 L227.55,1241.44 L221.76,1246.29 L215.98,1251.14 L210.19,1256.00 L204.40,1260.86 L198.62,1265.72 L192.83,1270.59 L187.04,1275.46 L181.26,1280.33 L175.47,1285.20 L169.68,1290.08 Z" fill="#fde0c0"/>
<line x1="169.68" y1="1276.46" x2="516.88" y2="1004.24" stroke="#f39a26" stroke-width="2.4"/>
<circle cx="397.8" cy="1091" r="3.3" fill="#f4a13a"/>
<circle cx="377.6" cy="1124.3" r="3.3" fill="#f4a13a"/>
<circle cx="350.3" cy="1137.6" r="3.3" fill="#f4a13a"/>
<circle cx="290.8" cy="1179.5" r="3.3" fill="#f4a13a"/>
</g>
<rect x="152.40" y="1012.00" width="379.80" height="38.30" fill="#fff" stroke="#05080b" stroke-width="2.5"/>
<text x="252.54" y="1039.50" font-size="18.5" fill="#111" stroke="#111" textLength="144.47" lengthAdjust="spacingAndGlyphs">Branching Porites</text>
<text x="173.56" y="1091.90" font-size="27.0" fill="#111" stroke="#111" textLength="63.64" lengthAdjust="spacingAndGlyphs">n = 4</text>
<text x="406.36" y="1193.00" font-size="20.3" fill="#111" stroke="#111" textLength="94.07" lengthAdjust="spacingAndGlyphs">α = -8.97</text>
<text x="406.90" y="1231.80" font-size="20.3" fill="#111" stroke="#111" textLength="89.96" lengthAdjust="spacingAndGlyphs">β =  3.14</text>
<line x1="150.60" y1="534.80" x2="150.60" y2="738.50" stroke="#05080b" stroke-width="2.5"/>
<line x1="143.70" y1="556.42" x2="150.60" y2="556.42" stroke="#25323a" stroke-width="2.2"/>
<text x="127.05" y="563.02" font-size="18.0" fill="#3a4750" stroke="#3a4750">4</text>
<line x1="143.70" y1="605.96" x2="150.60" y2="605.96" stroke="#25323a" stroke-width="2.2"/>
<text x="127.41" y="612.56" font-size="18.0" fill="#3a4750" stroke="#3a4750">2</text>
<line x1="143.70" y1="655.50" x2="150.60" y2="655.50" stroke="#25323a" stroke-width="2.2"/>
<text x="127.14" y="662.10" font-size="18.0" fill="#3a4750" stroke="#3a4750">0</text>
<line x1="143.70" y1="705.04" x2="150.60" y2="705.04" stroke="#25323a" stroke-width="2.2"/>
<text x="111.89" y="711.64" font-size="18.0" fill="#3a4750" stroke="#3a4750" textLength="23.02" lengthAdjust="spacingAndGlyphs">−2</text>
<line x1="150.60" y1="793.30" x2="150.60" y2="997.00" stroke="#05080b" stroke-width="2.5"/>
<line x1="143.70" y1="814.92" x2="150.60" y2="814.92" stroke="#25323a" stroke-width="2.2"/>
<text x="127.05" y="821.52" font-size="18.0" fill="#3a4750" stroke="#3a4750">4</text>
<line x1="143.70" y1="864.46" x2="150.60" y2="864.46" stroke="#25323a" stroke-width="2.2"/>
<text x="127.41" y="871.06" font-size="18.0" fill="#3a4750" stroke="#3a4750">2</text>
<line x1="143.70" y1="914.00" x2="150.60" y2="914.00" stroke="#25323a" stroke-width="2.2"/>
<text x="127.14" y="920.60" font-size="18.0" fill="#3a4750" stroke="#3a4750">0</text>
<line x1="143.70" y1="963.54" x2="150.60" y2="963.54" stroke="#25323a" stroke-width="2.2"/>
<text x="111.89" y="970.14" font-size="18.0" fill="#3a4750" stroke="#3a4750" textLength="23.02" lengthAdjust="spacingAndGlyphs">−2</text>
<line x1="150.60" y1="1051.80" x2="150.60" y2="1257.80" stroke="#05080b" stroke-width="2.5"/>
<line x1="143.70" y1="1073.42" x2="150.60" y2="1073.42" stroke="#25323a" stroke-width="2.2"/>
<text x="127.05" y="1080.02" font-size="18.0" fill="#3a4750" stroke="#3a4750">4</text>
<line x1="143.70" y1="1122.96" x2="150.60" y2="1122.96" stroke="#25323a" stroke-width="2.2"/>
<text x="127.41" y="1129.56" font-size="18.0" fill="#3a4750" stroke="#3a4750">2</text>
<line x1="143.70" y1="1172.50" x2="150.60" y2="1172.50" stroke="#25323a" stroke-width="2.2"/>
<text x="127.14" y="1179.10" font-size="18.0" fill="#3a4750" stroke="#3a4750">0</text>
<line x1="143.70" y1="1222.04" x2="150.60" y2="1222.04" stroke="#25323a" stroke-width="2.2"/>
<text x="111.89" y="1228.64" font-size="18.0" fill="#3a4750" stroke="#3a4750" textLength="23.02" lengthAdjust="spacingAndGlyphs">−2</text>
<line x1="150.60" y1="1257.40" x2="533.40" y2="1257.40" stroke="#05080b" stroke-width="2.6"/>
<line x1="217.30" y1="1257.40" x2="217.30" y2="1264.00" stroke="#25323a" stroke-width="2.2"/>
<text x="212.31" y="1284.40" font-size="18.0" fill="#3a4750" stroke="#3a4750">2</text>
<line x1="316.50" y1="1257.40" x2="316.50" y2="1264.00" stroke="#25323a" stroke-width="2.2"/>
<text x="311.50" y="1284.40" font-size="18.0" fill="#3a4750" stroke="#3a4750">3</text>
<line x1="415.70" y1="1257.40" x2="415.70" y2="1264.00" stroke="#25323a" stroke-width="2.2"/>
<text x="410.80" y="1284.40" font-size="18.0" fill="#3a4750" stroke="#3a4750">4</text>
<line x1="514.90" y1="1257.40" x2="514.90" y2="1264.00" stroke="#25323a" stroke-width="2.2"/>
<text x="509.91" y="1284.40" font-size="18.0" fill="#3a4750" stroke="#3a4750">5</text>
<line x1="546.80" y1="998.90" x2="928.30" y2="998.90" stroke="#05080b" stroke-width="2.6"/>
<line x1="613.20" y1="998.90" x2="613.20" y2="1005.50" stroke="#25323a" stroke-width="2.2"/>
<text x="608.21" y="1025.90" font-size="18.0" fill="#3a4750" stroke="#3a4750">2</text>
<line x1="712.40" y1="998.90" x2="712.40" y2="1005.50" stroke="#25323a" stroke-width="2.2"/>
<text x="707.41" y="1025.90" font-size="18.0" fill="#3a4750" stroke="#3a4750">3</text>
<line x1="811.60" y1="998.90" x2="811.60" y2="1005.50" stroke="#25323a" stroke-width="2.2"/>
<text x="806.70" y="1025.90" font-size="18.0" fill="#3a4750" stroke="#3a4750">4</text>
<line x1="910.80" y1="998.90" x2="910.80" y2="1005.50" stroke="#25323a" stroke-width="2.2"/>
<text x="905.81" y="1025.90" font-size="18.0" fill="#3a4750" stroke="#3a4750">5</text>
<line x1="941.80" y1="998.90" x2="1323.80" y2="998.90" stroke="#05080b" stroke-width="2.6"/>
<line x1="1008.40" y1="998.90" x2="1008.40" y2="1005.50" stroke="#25323a" stroke-width="2.2"/>
<text x="1003.40" y="1025.90" font-size="18.0" fill="#3a4750" stroke="#3a4750">2</text>
<line x1="1107.60" y1="998.90" x2="1107.60" y2="1005.50" stroke="#25323a" stroke-width="2.2"/>
<text x="1102.60" y="1025.90" font-size="18.0" fill="#3a4750" stroke="#3a4750">3</text>
<line x1="1206.80" y1="998.90" x2="1206.80" y2="1005.50" stroke="#25323a" stroke-width="2.2"/>
<text x="1201.89" y="1025.90" font-size="18.0" fill="#3a4750" stroke="#3a4750">4</text>
<line x1="1306.00" y1="998.90" x2="1306.00" y2="1005.50" stroke="#25323a" stroke-width="2.2"/>
<text x="1301.00" y="1025.90" font-size="18.0" fill="#3a4750" stroke="#3a4750">5</text>
<text transform="translate(84.70,1043.91) rotate(-90)" x="0" y="0" font-size="30.0" fill="#111" stroke="#111" textLength="343.34" lengthAdjust="spacingAndGlyphs">log absolute spatial refuge</text>
<text x="629.60" y="1322.90" font-size="30.0" fill="#111" stroke="#111" textLength="279.53" lengthAdjust="spacingAndGlyphs">log colony diameter</text>
</g>
<g id="C">
<text x="-0.01" y="1350.10" font-size="28.6" fill="#000" stroke="#000" font-weight="bold" textLength="21.83" lengthAdjust="spacingAndGlyphs">C</text>
<line x1="1012.10" y1="1351.30" x2="1012.10" y2="1927.50" stroke="#dfe4e7" stroke-width="2.0"/>
<line x1="303.40" y1="1351.30" x2="303.40" y2="1928.50" stroke="#111" stroke-width="1.8"/>
<line x1="302.50" y1="1928.10" x2="1313.50" y2="1928.10" stroke="#111" stroke-width="2.2"/>
<line x1="381.40" y1="1928.10" x2="381.40" y2="1934.00" stroke="#25323a" stroke-width="2.0"/>
<text x="346.20" y="1963.80" font-size="26.0" fill="#3a4750" stroke="#3a4750" textLength="51.00" lengthAdjust="spacingAndGlyphs">−10</text>
<line x1="696.75" y1="1928.10" x2="696.75" y2="1934.00" stroke="#25323a" stroke-width="2.0"/>
<text x="666.17" y="1963.80" font-size="26.0" fill="#3a4750" stroke="#3a4750" textLength="34.96" lengthAdjust="spacingAndGlyphs">−5</text>
<line x1="1012.10" y1="1928.10" x2="1012.10" y2="1934.00" stroke="#25323a" stroke-width="2.0"/>
<text x="1003.65" y="1963.80" font-size="26.0" fill="#3a4750" stroke="#3a4750" textLength="17.38" lengthAdjust="spacingAndGlyphs">0</text>
<rect x="296.9" y="1372.80" width="6.5" height="3.6" fill="#26333b"/>
<text x="43.75" y="1380.00" font-size="20.3" fill="#111" stroke="#111" textLength="242.23" lengthAdjust="spacingAndGlyphs">α Corymbose Acropora</text>
<rect x="296.9" y="1410.90" width="6.5" height="3.6" fill="#26333b"/>
<text x="88.85" y="1418.10" font-size="20.3" fill="#111" stroke="#111" textLength="203.20" lengthAdjust="spacingAndGlyphs">α Digitate Acropora</text>
<rect x="296.9" y="1448.00" width="6.5" height="3.6" fill="#26333b"/>
<text x="91.95" y="1455.20" font-size="20.3" fill="#111" stroke="#111" textLength="200.08" lengthAdjust="spacingAndGlyphs">α Tabular Acropora</text>
<rect x="296.9" y="1485.70" width="6.5" height="3.6" fill="#26333b"/>
<text x="77.06" y="1492.90" font-size="20.3" fill="#111" stroke="#111" textLength="211.00" lengthAdjust="spacingAndGlyphs">α Branching Isopora</text>
<rect x="296.9" y="1523.70" width="6.5" height="3.6" fill="#26333b"/>
<text x="36.06" y="1530.90" font-size="20.3" fill="#111" stroke="#111" textLength="248.93" lengthAdjust="spacingAndGlyphs">α Branching Pocillopora</text>
<rect x="296.9" y="1561.80" width="6.5" height="3.6" fill="#26333b"/>
<text x="76.56" y="1569.00" font-size="20.3" fill="#111" stroke="#111" textLength="210.80" lengthAdjust="spacingAndGlyphs">α Branchinig Porites</text>
<rect x="296.9" y="1600.00" width="6.5" height="3.6" fill="#26333b"/>
<text x="193.04" y="1607.20" font-size="20.3" fill="#111" stroke="#111" textLength="108.12" lengthAdjust="spacingAndGlyphs">α Massive</text>
<rect x="296.9" y="1638.10" width="6.5" height="3.6" fill="#26333b"/>
<text x="42.64" y="1645.30" font-size="20.3" fill="#111" stroke="#111" textLength="242.69" lengthAdjust="spacingAndGlyphs">β Corymbose Acropora</text>
<rect x="296.9" y="1676.40" width="6.5" height="3.6" fill="#26333b"/>
<text x="87.82" y="1683.60" font-size="20.3" fill="#111" stroke="#111" textLength="204.16" lengthAdjust="spacingAndGlyphs">β Digitate Acropora</text>
<rect x="296.9" y="1714.00" width="6.5" height="3.6" fill="#26333b"/>
<text x="89.33" y="1721.20" font-size="20.3" fill="#111" stroke="#111" textLength="200.75" lengthAdjust="spacingAndGlyphs">β Tabular Acropora</text>
<rect x="296.9" y="1752.00" width="6.5" height="3.6" fill="#26333b"/>
<text x="75.86" y="1759.20" font-size="20.3" fill="#111" stroke="#111" textLength="210.63" lengthAdjust="spacingAndGlyphs">β Branching Isopora</text>
<rect x="296.9" y="1790.20" width="6.5" height="3.6" fill="#26333b"/>
<text x="35.75" y="1797.40" font-size="20.3" fill="#111" stroke="#111" textLength="248.68" lengthAdjust="spacingAndGlyphs">β Branching Pocillopora</text>
<rect x="296.9" y="1828.00" width="6.5" height="3.6" fill="#26333b"/>
<text x="84.16" y="1835.20" font-size="20.3" fill="#111" stroke="#111" textLength="204.49" lengthAdjust="spacingAndGlyphs">β Branching Porites</text>
<rect x="296.9" y="1865.80" width="6.5" height="3.6" fill="#26333b"/>
<text x="191.35" y="1873.00" font-size="20.3" fill="#111" stroke="#111" textLength="106.73" lengthAdjust="spacingAndGlyphs">β Massive</text>
<rect x="296.9" y="1903.80" width="6.5" height="3.6" fill="#26333b"/>
<text x="238.59" y="1911.00" font-size="20.3" fill="#111" stroke="#111" textLength="62.77" lengthAdjust="spacingAndGlyphs">sigma</text>
<line x1="391.30" y1="1374.60" x2="482.90" y2="1374.60" stroke="#0d6b32" stroke-width="2.0"/>
<rect x="418.90" y="1370.20" width="36.90" height="8.8" fill="#a9d6c2"/>
<ellipse cx="437.00" cy="1374.60" rx="9.6" ry="8.9" fill="#c6ddd3" stroke="#0d6b32" stroke-width="2.4"/>
<line x1="441.00" y1="1412.70" x2="517.50" y2="1412.70" stroke="#0d6b32" stroke-width="2.0"/>
<rect x="463.00" y="1408.30" width="31.60" height="8.8" fill="#a9d6c2"/>
<ellipse cx="479.00" cy="1412.70" rx="9.6" ry="8.9" fill="#c6ddd3" stroke="#0d6b32" stroke-width="2.4"/>
<line x1="402.00" y1="1449.80" x2="497.70" y2="1449.80" stroke="#0d6b32" stroke-width="2.0"/>
<rect x="430.20" y="1445.40" width="39.80" height="8.8" fill="#a9d6c2"/>
<ellipse cx="450.00" cy="1449.80" rx="9.6" ry="8.9" fill="#c6ddd3" stroke="#0d6b32" stroke-width="2.4"/>
<line x1="407.70" y1="1487.50" x2="508.70" y2="1487.50" stroke="#4a94c4" stroke-width="1.6"/>
<rect x="437.00" y="1483.10" width="42.00" height="8.8" fill="#1a4f86"/>
<ellipse cx="457.90" cy="1487.50" rx="9.6" ry="8.9" fill="#b8e0f4" stroke="#2b90d6" stroke-width="2.4"/>
<line x1="409.90" y1="1525.50" x2="492.90" y2="1525.50" stroke="#8a1414" stroke-width="2.0"/>
<rect x="434.00" y="1521.10" width="34.60" height="8.8" fill="#f1b8bd"/>
<ellipse cx="451.30" cy="1525.50" rx="9.6" ry="8.9" fill="#d5aaae" stroke="#a51d1d" stroke-width="2.4"/>
<line x1="395.20" y1="1563.60" x2="494.60" y2="1563.60" stroke="#f7941d" stroke-width="2.0"/>
<rect x="425.10" y="1559.20" width="40.30" height="8.8" fill="#d9e88c"/>
<ellipse cx="445.20" cy="1563.60" rx="9.6" ry="8.9" fill="#f1f0a0" stroke="#f7941d" stroke-width="2.4"/>
<line x1="412.70" y1="1601.80" x2="510.90" y2="1601.80" stroke="#6a68c2" stroke-width="2.0"/>
<rect x="441.30" y="1597.40" width="40.30" height="8.8" fill="#dcc3e2"/>
<ellipse cx="461.30" cy="1601.80" rx="9.6" ry="8.9" fill="#dcd8ee" stroke="#6a68c8" stroke-width="2.4"/>
<line x1="1183.00" y1="1639.90" x2="1211.10" y2="1639.90" stroke="#0d6b32" stroke-width="2.0"/>
<ellipse cx="1196.50" cy="1639.90" rx="9.6" ry="8.9" fill="#c6ddd3" stroke="#0d6b32" stroke-width="2.4"/>
<line x1="1171.00" y1="1678.20" x2="1195.80" y2="1678.20" stroke="#0d6b32" stroke-width="2.0"/>
<ellipse cx="1183.30" cy="1678.20" rx="9.6" ry="8.9" fill="#c6ddd3" stroke="#0d6b32" stroke-width="2.4"/>
<line x1="1173.90" y1="1715.80" x2="1201.20" y2="1715.80" stroke="#0d6b32" stroke-width="2.0"/>
<ellipse cx="1187.30" cy="1715.80" rx="9.6" ry="8.9" fill="#c6ddd3" stroke="#0d6b32" stroke-width="2.4"/>
<line x1="1184.20" y1="1753.80" x2="1208.60" y2="1753.80" stroke="#4a94c4" stroke-width="1.6"/>
<ellipse cx="1196.50" cy="1753.80" rx="9.6" ry="8.9" fill="#b8e0f4" stroke="#2b90d6" stroke-width="2.4"/>
<line x1="1184.50" y1="1792.00" x2="1209.00" y2="1792.00" stroke="#8a1414" stroke-width="2.0"/>
<ellipse cx="1196.60" cy="1792.00" rx="9.6" ry="8.9" fill="#d5aaae" stroke="#a51d1d" stroke-width="2.4"/>
<line x1="1194.20" y1="1829.80" x2="1225.60" y2="1829.80" stroke="#f7941d" stroke-width="2.0"/>
<ellipse cx="1209.00" cy="1829.80" rx="9.6" ry="8.9" fill="#f1f0a0" stroke="#f7941d" stroke-width="2.4"/>
<line x1="1139.10" y1="1867.60" x2="1169.70" y2="1867.60" stroke="#6a68c2" stroke-width="2.0"/>
<ellipse cx="1154.60" cy="1867.60" rx="9.6" ry="8.9" fill="#dcd8ee" stroke="#6a68c8" stroke-width="2.4"/>
<ellipse cx="1036.2" cy="1905.5" rx="9.9" ry="9.2" fill="#c3d9e6"/>
<text x="624.48" y="2021.40" font-size="28.0" fill="#111" stroke="#111" textLength="261.19" lengthAdjust="spacingAndGlyphs">Model coefficients</text>
</g>
</g>
</svg>
</body></html>
